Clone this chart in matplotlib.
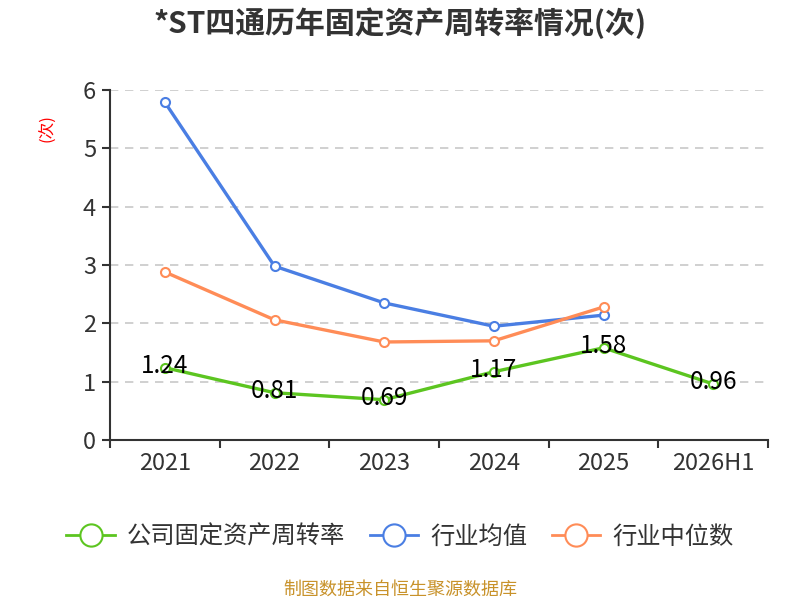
import matplotlib
matplotlib.use("Agg")
import matplotlib.pyplot as plt
from matplotlib.lines import Line2D

plt.rcParams['font.family'] = ['Noto Sans CJK SC', 'DejaVu Sans']

categories = ["2021", "2022", "2023", "2024", "2025", "2026H1"]
company = [1.24, 0.81, 0.69, 1.17, 1.58, 0.96]
industry_avg = [5.79, 2.98, 2.35, 1.95, 2.14]
industry_median = [2.88, 2.06, 1.68, 1.70, 2.28]
yticks = [0, 1, 2, 3, 4, 5, 6]

title = "*ST四通历年固定资产周转率情况(次)"
series_names = ["公司固定资产周转率", "行业均值", "行业中位数"]
colors = ["#5cc520", "#4a7ee3", "#ff8c57"]

fig = plt.figure(figsize=(8, 6), dpi=100)
ax = fig.add_axes([0.1375, 0.2667, 0.8225, 0.5833])

x = list(range(len(categories)))
ax.plot(x[:len(industry_avg)], industry_avg, color=colors[1], lw=2.4, marker='o',
        ms=6.5, mfc='white', mec=colors[1], mew=1.5, zorder=3)
ax.plot(x[:len(industry_median)], industry_median, color=colors[2], lw=2.4, marker='o',
        ms=6.5, mfc='white', mec=colors[2], mew=1.5, zorder=3)
ax.plot(x, company, color=colors[0], lw=2.4, marker='o',
        ms=6.5, mfc='white', mec=colors[0], mew=1.5, zorder=4)
for xi, v in zip(x, company):
    ax.text(xi, v + 0.03, f"{v:.2f}", ha='center', va='center', fontsize=17.5,
            color='black', zorder=5)

ax.set_xlim(-0.5, len(categories) - 0.5)
ax.set_ylim(0, 6)
ax.set_yticks(yticks)
ax.set_yticklabels([str(t) for t in yticks])
ax.set_xticks(x)
ax.set_xticklabels(categories)
ax.set_xticks([i - 0.5 for i in range(len(categories) + 1)], minor=True)
ax.tick_params(axis='x', which='major', length=0, pad=9, labelsize=17, colors='#333333')
ax.tick_params(axis='x', which='minor', length=6, width=1.5, color='#333333')
ax.tick_params(axis='y', which='major', length=6, width=1.5, color='#333333',
               labelsize=17, labelcolor='#333333', pad=4)
for y in yticks[1:]:
    ax.axhline(y, color='#c8c8c8', lw=1.2, ls=(0, (5, 4)), zorder=1)
for s in ['top', 'right']:
    ax.spines[s].set_visible(False)
for s in ['left', 'bottom']:
    ax.spines[s].set_color('#333333')
    ax.spines[s].set_linewidth(1.5)

fig.text(0.06, 0.787, "(次)", rotation=90, color='red', fontsize=12, ha='center', va='center')
fig.text(0.5, 0.962, title, ha='center', va='center', fontsize=21.5, fontweight='bold',
         color='#333333')

handles = [Line2D([0], [0], color=c, lw=2, marker='o', ms=16, mfc='white', mec=c, mew=1.5)
           for c in colors]
fig.legend(handles, series_names, loc='center', bbox_to_anchor=(0.5, 0.105), ncol=3,
           frameon=False, fontsize=17.5, handlelength=2.0, handletextpad=0.5,
           columnspacing=1.0, labelcolor='#333333')

fig.text(0.5, 0.017, "制图数据来自恒生聚源数据库", ha='center', va='center', fontsize=13,
         color='#c8922a')

fig.savefig("out.png", dpi=100)
